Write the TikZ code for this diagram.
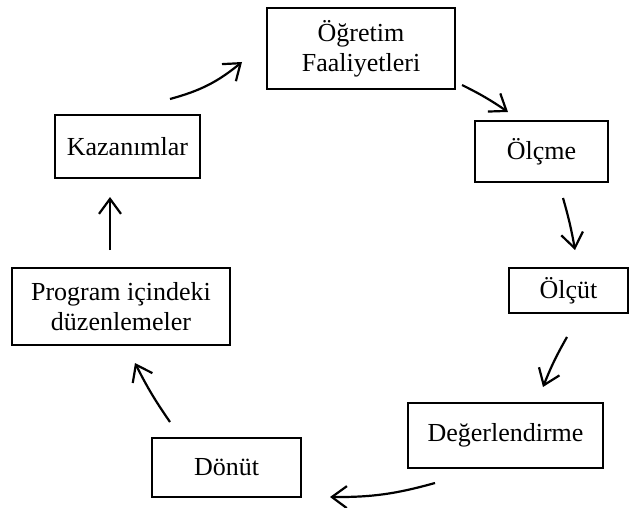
\documentclass[tikz,border=0pt]{standalone}
\usepackage{fontspec}
\setmainfont{Liberation Serif}
\usetikzlibrary{arrows.meta}
\begin{document}
\begin{tikzpicture}[x=1pt,y=-1pt,
  box/.style={draw, line width=1.7pt, inner sep=0pt, align=center, font=\fontsize{26}{30}\selectfont},
  conn/.style={line width=2.2pt, -{Straight Barb[length=15pt,width=22pt]}}]
\useasboundingbox (0,0) rectangle (632,508);
\node[box, minimum width=188pt, minimum height=81pt] (ogr) at (361,48.5) {Öğretim\\Faaliyetleri};
\node[box, minimum width=133pt, minimum height=61pt] (olc) at (541.5,151.5) {Ölçme};
\node[box, minimum width=119pt, minimum height=45pt] (olcut) at (568.5,290.5) {Ölçüt};
\node[box, minimum width=195pt, minimum height=65pt] (deg) at (505.5,435.5) {Değerlendirme};
\node[box, minimum width=149pt, minimum height=59pt] (don) at (226.5,467.5) {Dönüt};
\node[box, minimum width=218pt, minimum height=77pt] (prog) at (121,306.5) {Program içindeki\\düzenlemeler};
\node[box, minimum width=145pt, minimum height=63pt] (kaz) at (127.5,146.5) {Kazanımlar};
\coordinate (a1) at (170,99);  \coordinate (b1) at (242,62);
\coordinate (a2) at (462,85);  \coordinate (b2) at (508,112);
\coordinate (a3) at (563,198); \coordinate (b3) at (575,250);
\coordinate (a4) at (567,337); \coordinate (b4) at (543,387);
\coordinate (a5) at (435,483); \coordinate (b5) at (330,497);
\coordinate (a6) at (170,422); \coordinate (b6) at (135,363);
\coordinate (a7) at (110,250); \coordinate (b7) at (110,197);
\draw[conn] (a1) to[bend right=12] (b1);
\draw[conn] (a2) to[bend left=4] (b2);
\draw[conn] (a3) to[bend left=3] (b3);
\draw[conn] (a4) to[bend right=4] (b4);
\draw[conn] (a5) to[bend left=8] (b5);
\draw[conn] (a6) to[bend left=4] (b6);
\draw[conn] (a7) -- (b7);
\end{tikzpicture}
\end{document}
